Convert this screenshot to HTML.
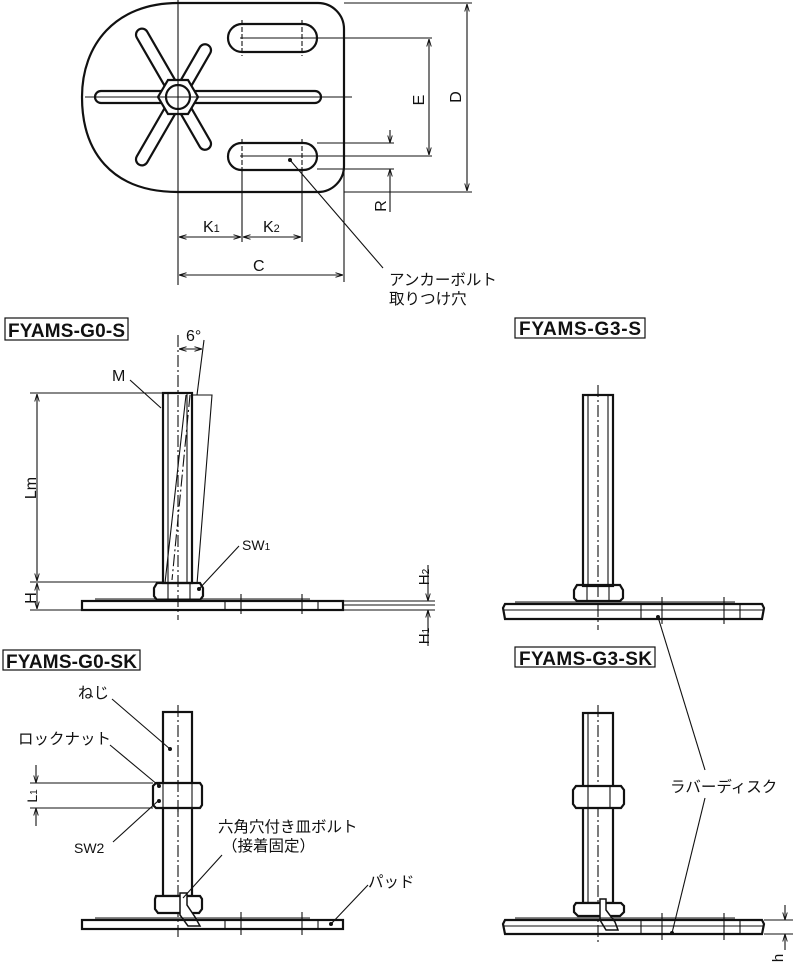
<!DOCTYPE html>
<html><head><meta charset="utf-8"><style>
html,body{margin:0;padding:0;background:#fff}
svg{display:block}
text{font-family:"Liberation Sans","Noto Sans CJK JP",sans-serif;fill:#111}
.b{font-weight:bold;font-size:19px}
.j{font-size:15.5px}
</style></head><body>
<svg width="793" height="969" viewBox="0 0 793 969" xmlns="http://www.w3.org/2000/svg">
<defs>
<marker id="a" viewBox="0 0 10 10" refX="10" refY="5" markerWidth="7" markerHeight="7" orient="auto-start-reverse"><path d="M0,2 L10,5 L0,8" fill="none" stroke="#111" stroke-width="1.2"/></marker>
</defs>
<g stroke="#111" fill="none" stroke-width="1.1">
<!-- TOP VIEW -->
<path d="M178,3 H318 A26,26 0 0 1 344,29 V166 A26,26 0 0 1 318,192 H178 C110,192 82,150 82,97 C82,45 115,3 178,3 Z" stroke-width="2.2"/>
<rect x="228" y="24" width="89" height="28" rx="14" stroke-width="2.2"/>
<rect x="228" y="143" width="89" height="27" rx="13.5" stroke-width="2.2"/>
<g stroke-dasharray="5,2"><line x1="242" y1="20" x2="242" y2="56"/><line x1="302" y1="20" x2="302" y2="56"/><line x1="242" y1="139" x2="242" y2="174"/><line x1="302" y1="139" x2="302" y2="174"/></g>
<g stroke-width="2.2" fill="#fff">
<rect x="95" y="91" width="226" height="12" rx="6"/>
<g transform="rotate(-120 178 97)"><rect x="178" y="91" width="78" height="12" rx="6"/></g>
<g transform="rotate(120 178 97)"><rect x="178" y="91" width="78" height="12" rx="6"/></g>
<g transform="rotate(-60 178 97)"><rect x="178" y="91" width="60" height="12" rx="6"/></g>
<g transform="rotate(60 178 97)"><rect x="178" y="91" width="60" height="12" rx="6"/></g>
<polygon points="198,97 188,114 168,114 158,97 168,80 188,80"/>
<circle cx="178" cy="97" r="12"/>
</g>
<line x1="178" y1="0" x2="178" y2="285"/>
<line x1="85" y1="97" x2="352" y2="97"/>
<line x1="240" y1="38" x2="432" y2="38"/>
<line x1="240" y1="156" x2="432" y2="156"/>
<line x1="344" y1="3" x2="472" y2="3"/><line x1="344" y1="192" x2="472" y2="192"/>
<line x1="467" y1="4" x2="467" y2="191" marker-start="url(#a)" marker-end="url(#a)"/>
<line x1="429" y1="39" x2="429" y2="155" marker-start="url(#a)" marker-end="url(#a)"/>
<line x1="317" y1="143" x2="394" y2="143"/><line x1="317" y1="169" x2="394" y2="169"/>
<line x1="390" y1="130" x2="390" y2="143" marker-end="url(#a)"/>
<line x1="390" y1="212" x2="390" y2="169" marker-end="url(#a)"/>
<line x1="242" y1="170" x2="242" y2="242"/><line x1="302" y1="170" x2="302" y2="242"/>
<line x1="344" y1="170" x2="344" y2="282"/>
<line x1="179" y1="237" x2="241" y2="237" marker-start="url(#a)" marker-end="url(#a)"/>
<line x1="243" y1="237" x2="301" y2="237" marker-start="url(#a)" marker-end="url(#a)"/>
<line x1="179" y1="275" x2="343" y2="275" marker-start="url(#a)" marker-end="url(#a)"/>
<line x1="290" y1="160" x2="383" y2="268"/>
</g>
<circle cx="290" cy="160" r="2" fill="#111"/>
<text x="203" y="232" font-size="16">K<tspan font-size="11">1</tspan></text>
<text x="263" y="232" font-size="16">K<tspan font-size="11">2</tspan></text>
<text x="253" y="271" font-size="16">C</text>
<text transform="translate(461,97) rotate(-90)" font-size="16" text-anchor="middle">D</text>
<text transform="translate(424,100) rotate(-90)" font-size="16" text-anchor="middle">E</text>
<text transform="translate(386,206) rotate(-90)" font-size="16" text-anchor="middle">R</text>
<text x="389" y="285" class="j">アンカーボルト</text>
<text x="389" y="304" class="j">取りつけ穴</text>

<!-- LABEL BOXES -->
<g stroke="#111" fill="none" stroke-width="1.2">
<rect x="5" y="318" width="123" height="22"/>
<rect x="515" y="318" width="130" height="20"/>
<rect x="3" y="650" width="137" height="20"/>
<rect x="515" y="647" width="140" height="20"/>
</g>
<text x="8" y="337" class="b" textLength="117">FYAMS-G0-S</text>
<text x="519" y="335" class="b" textLength="122">FYAMS-G3-S</text>
<text x="6" y="668" class="b" textLength="131">FYAMS-G0-SK</text>
<text x="519" y="665" class="b" textLength="133">FYAMS-G3-SK</text>

<!-- G0-S -->
<g stroke="#111" fill="none" stroke-width="1.1">
<path d="M192,395 L212,395 L197,584" />
<line x1="165" y1="583" x2="186" y2="395"/>
<rect x="163" y="393" width="29" height="190" stroke-width="2.2" fill="none"/>
<line x1="168" y1="394" x2="168" y2="582"/><line x1="187" y1="394" x2="187" y2="582"/>
<line x1="178" y1="335" x2="178" y2="620" stroke-dasharray="12,3,2,3"/>
<line x1="190" y1="395" x2="172" y2="580" stroke-dasharray="12,3,2,3"/>
<line x1="204" y1="340" x2="197" y2="395"/>
<line x1="179" y1="349" x2="202" y2="349" marker-start="url(#a)" marker-end="url(#a)"/>
<path d="M157,583 H200 L203,588 V596 L200,600 H157 L154,596 V588 Z" stroke-width="2.2"/>
<line x1="168" y1="583" x2="168" y2="600"/><line x1="190" y1="583" x2="190" y2="600"/>
<rect x="82" y="601" width="261" height="9" stroke-width="2.2"/>
<line x1="95" y1="599" x2="310" y2="599"/>
<line x1="225" y1="601" x2="225" y2="610"/><line x1="318" y1="601" x2="318" y2="610"/>
<line x1="241" y1="594" x2="241" y2="614"/><line x1="302" y1="594" x2="302" y2="614"/>
<line x1="343" y1="601" x2="435" y2="601"/><line x1="343" y1="605" x2="435" y2="605"/><line x1="343" y1="610" x2="435" y2="610"/>
<line x1="428" y1="565" x2="428" y2="601" marker-end="url(#a)"/>
<line x1="428" y1="646" x2="428" y2="610" marker-end="url(#a)"/>
<line x1="30" y1="393" x2="163" y2="393"/>
<line x1="30" y1="582" x2="163" y2="582"/>
<line x1="37" y1="394" x2="37" y2="581" marker-start="url(#a)" marker-end="url(#a)"/>
<line x1="37" y1="583" x2="37" y2="609" marker-start="url(#a)" marker-end="url(#a)"/>
<line x1="30" y1="610" x2="82" y2="610"/>
<line x1="130" y1="380" x2="161" y2="408"/>
<line x1="199" y1="589" x2="239" y2="546"/>
</g>
<circle cx="199" cy="589" r="2" fill="#111"/>
<text x="186" y="341" font-size="16">6°</text>
<text x="112" y="381" font-size="16">M</text>
<text transform="translate(36,488) rotate(-90)" font-size="16" text-anchor="middle">Lm</text>
<text transform="translate(36,598) rotate(-90)" font-size="16" text-anchor="middle">H</text>
<text transform="translate(429,577) rotate(-90)" font-size="15" text-anchor="middle">H<tspan font-size="10">2</tspan></text>
<text transform="translate(429,636) rotate(-90)" font-size="15" text-anchor="middle">H<tspan font-size="10">1</tspan></text>
<text x="242" y="550" font-size="14">SW<tspan font-size="10">1</tspan></text>

<!-- G3-S -->
<g stroke="#111" fill="none" stroke-width="1.1">
<rect x="583" y="395" width="30" height="191" stroke-width="2.2"/>
<line x1="588" y1="396" x2="588" y2="585"/><line x1="608" y1="396" x2="608" y2="585"/>
<line x1="598" y1="385" x2="598" y2="630" stroke-dasharray="12,3,2,3"/>
<path d="M577,585 H620 L623,590 V598 L620,601 H577 L574,598 V590 Z" stroke-width="2.2"/>
<line x1="587" y1="585" x2="587" y2="601"/><line x1="609" y1="585" x2="609" y2="601"/>
<path d="M505,604 H762 L764,608 L762,619 H505 L503,608 Z" stroke-width="2.2"/>
<line x1="503" y1="610" x2="764" y2="610"/>
<line x1="515" y1="602" x2="735" y2="602"/>
<line x1="641" y1="604" x2="641" y2="619"/><line x1="740" y1="604" x2="740" y2="619"/>
<line x1="662" y1="597" x2="662" y2="624"/><line x1="724" y1="597" x2="724" y2="624"/>
</g>
<circle cx="658" cy="617" r="2" fill="#111"/>

<!-- G0-SK -->
<g stroke="#111" fill="none" stroke-width="1.1">
<rect x="163" y="712" width="29" height="184" stroke-width="2.2"/>
<line x1="178" y1="705" x2="178" y2="938" stroke-dasharray="12,3,2,3"/>
<path d="M156,783 H200 L202,786 V805 L200,808 H156 L153,805 V786 Z" stroke-width="2.2" fill="#fff"/>
<line x1="163" y1="783" x2="163" y2="808"/><line x1="192" y1="783" x2="192" y2="808"/>
<line x1="178" y1="780" x2="178" y2="812" stroke-dasharray="12,3,2,3"/>
<path d="M156,896 H200 L202,899 V909 L199,913 H158 L155,909 V899 Z" stroke-width="2.2" fill="#fff"/>
<path d="M180,893 H187 V905 L195,917 L200,926 H188 L180,915 Z" stroke-width="1.5" fill="#fff"/>
<rect x="82" y="920" width="261" height="9" stroke-width="2.2"/>
<line x1="95" y1="918" x2="310" y2="918"/>
<line x1="225" y1="920" x2="225" y2="929"/><line x1="318" y1="920" x2="318" y2="929"/>
<line x1="241" y1="912" x2="241" y2="935"/><line x1="302" y1="912" x2="302" y2="935"/>
<line x1="30" y1="783" x2="153" y2="783"/><line x1="30" y1="808" x2="153" y2="808"/>
<line x1="36" y1="765" x2="36" y2="783" marker-end="url(#a)"/>
<line x1="36" y1="826" x2="36" y2="808" marker-end="url(#a)"/>
<line x1="112" y1="699" x2="170" y2="749"/>
<line x1="110" y1="745" x2="158" y2="785"/>
<line x1="113" y1="842" x2="158" y2="801"/>
<line x1="222" y1="855" x2="183" y2="898"/>
<line x1="368" y1="885" x2="331" y2="924"/>
</g>
<circle cx="170" cy="749" r="2" fill="#111"/><circle cx="159" cy="786" r="2" fill="#111"/><circle cx="159" cy="801" r="2" fill="#111"/><circle cx="331" cy="924" r="2" fill="#111"/>
<text x="78" y="698" class="j">ねじ</text>
<text x="18" y="744" class="j">ロックナット</text>
<text x="74" y="853" font-size="14">SW2</text>
<text x="218" y="832" class="j">六角穴付き皿ボルト</text>
<text x="222" y="851" class="j">（接着固定）</text>
<text x="368" y="887" class="j">パッド</text>
<text transform="translate(37,796) rotate(-90)" font-size="14" text-anchor="middle">L<tspan font-size="10">1</tspan></text>

<!-- G3-SK -->
<g stroke="#111" fill="none" stroke-width="1.1">
<rect x="583" y="713" width="30" height="190" stroke-width="2.2"/>
<line x1="588" y1="714" x2="588" y2="902"/>
<line x1="598" y1="705" x2="598" y2="945" stroke-dasharray="12,3,2,3"/>
<path d="M576,786 H621 L624,790 V804 L621,808 H576 L573,804 V790 Z" stroke-width="2.2" fill="#fff"/>
<line x1="588" y1="786" x2="588" y2="808"/><line x1="610" y1="786" x2="610" y2="808"/>
<path d="M576,903 H621 L624,906 V912 L620,916 H578 L574,912 V906 Z" stroke-width="2.2" fill="#fff"/>
<path d="M600,899 H606 V910 L615,922 L618,930 H606 L600,920 Z" stroke-width="1.5" fill="#fff"/>
<path d="M505,920 H762 L764,924 L762,934 H505 L503,924 Z" stroke-width="2.2"/>
<line x1="503" y1="926" x2="764" y2="926"/>
<line x1="515" y1="918" x2="735" y2="918"/>
<line x1="641" y1="920" x2="641" y2="934"/><line x1="740" y1="920" x2="740" y2="934"/>
<line x1="662" y1="913" x2="662" y2="940"/><line x1="724" y1="913" x2="724" y2="940"/>
<line x1="658" y1="617" x2="705" y2="770"/>
<line x1="672" y1="933" x2="705" y2="798"/>
<line x1="764" y1="920" x2="793" y2="920"/><line x1="764" y1="934" x2="793" y2="934"/>
<line x1="785" y1="905" x2="785" y2="920" marker-end="url(#a)"/>
<line x1="785" y1="950" x2="785" y2="934" marker-end="url(#a)"/>
</g>
<circle cx="672" cy="933" r="2" fill="#111"/>
<text x="670" y="792" class="j">ラバーディスク</text>
<text transform="translate(783,958) rotate(-90)" font-size="15" text-anchor="middle">h</text>
</svg>
</body></html>
